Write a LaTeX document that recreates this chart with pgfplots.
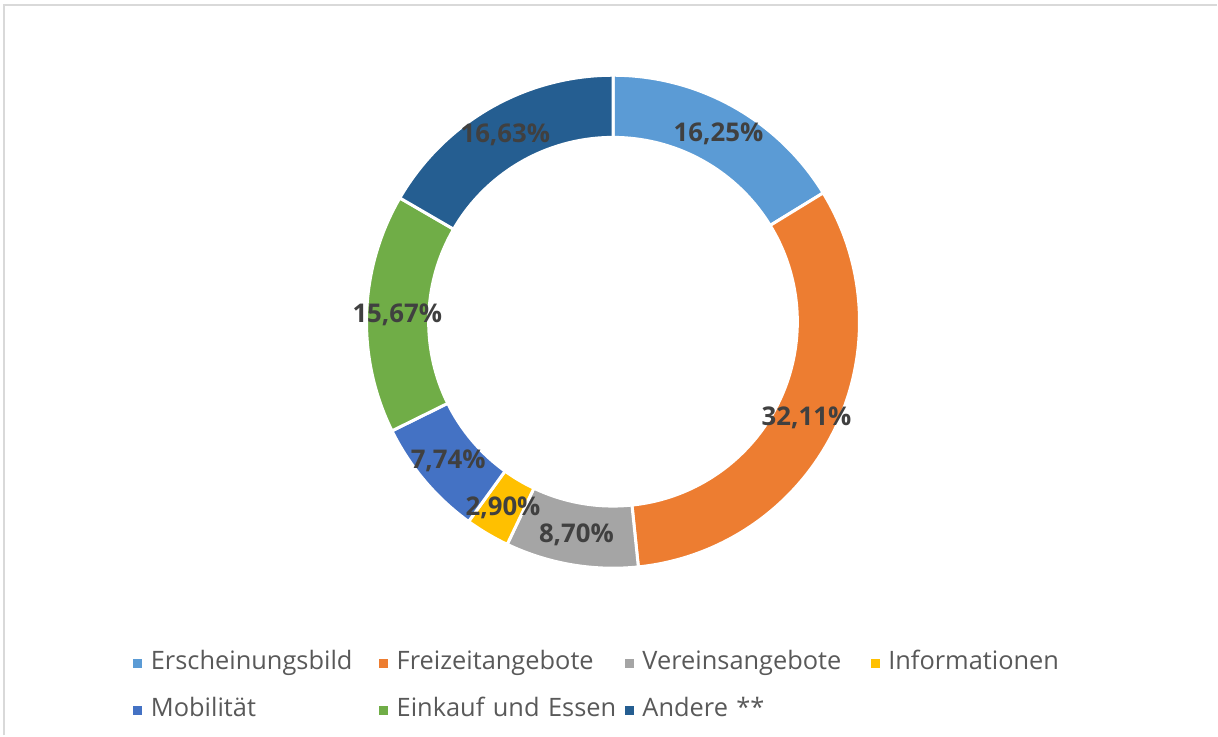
\documentclass[border=0pt]{standalone}
\usepackage{fontspec}
\setmainfont{Open Sans}
\usepackage{pgfplots}
\pgfplotsset{compat=1.18}
\definecolor{c1}{HTML}{5B9BD5}
\definecolor{c2}{HTML}{ED7D31}
\definecolor{c3}{HTML}{A5A5A5}
\definecolor{c4}{HTML}{FFC000}
\definecolor{c5}{HTML}{4472C4}
\definecolor{c6}{HTML}{70AD47}
\definecolor{c7}{HTML}{255E91}
\definecolor{lbl}{HTML}{404040}
\definecolor{leg}{HTML}{595959}
\definecolor{framecol}{HTML}{D9D9D9}
\def\donutdata{16.25/c1, 32.11/c2, 8.70/c3, 2.90/c4, 7.74/c5, 15.67/c6, 16.63/c7}
\def\lblfont{\fontsize{12.9}{15}\selectfont\bfseries}
\begin{document}
\begin{tikzpicture}
\begin{axis}[
  scale only axis, width=609pt, height=368pt,
  xmin=0, xmax=1218, ymin=0, ymax=736,
  hide axis, clip=false,
  /pgf/number format/assume math mode=true,
  legend columns=4,
  legend image code/.code={\fill[#1, draw=none] (0pt,-2.25pt) rectangle (4.5pt,2.25pt);},
  legend style={draw=none, fill=none, at={(axis cs:133,84)}, anchor=north west,
    font=\fontsize{12.7}{15}\selectfont, text=leg, inner sep=0pt, row sep=11.5pt,
    nodes={text width=114.2pt, inner xsep=0pt, inner ysep=0pt, text height=9pt, text depth=3pt, align=left, anchor=west}},
  /tikz/every odd column/.style={column sep=4.3pt},
]
\path (axis cs:0,0) rectangle (axis cs:1218,736);
\draw[framecol, line width=1pt] (axis cs:4,0) -- (axis cs:4,731) -- (axis cs:1218,731);
\xdef\cum{90}
\foreach \v/\c in \donutdata {
  \pgfmathsetmacro\endang{\cum-3.6*\v}
  \edef\tmp{\noexpand\addplot[forget plot, fill=\c, draw=white, line width=1.5pt, line join=round, domain=\endang:\cum, samples=120, variable=\noexpand\t] ({613.5+246.7*cos(\noexpand\t)},{414+246.7*sin(\noexpand\t)}) -- (axis cs:613.5,414) -- cycle;}
  \tmp
  \xdef\cum{\endang}
}
\addplot[forget plot, fill=white, draw=none, domain=0:360, samples=240, variable=\t] ({613.5+186*cos(\t)},{414+186*sin(\t)}) -- cycle;
\xdef\cum{90}
\foreach \v/\c in \donutdata {
  \pgfmathsetmacro\lx{613.5+216*cos(\cum-1.8*\v)}
  \pgfmathsetmacro\ly{414+216*sin(\cum-1.8*\v)}
  \pgfmathsetmacro\endang{\cum-3.6*\v}
  \edef\tmp{\noexpand\node[font=\noexpand\lblfont, text=lbl] at (axis cs:\lx,\ly) {\noexpand\pgfmathprintnumber[fixed,fixed zerofill,precision=2,use comma,assume math mode=true]{\v}\noexpand\%};}
  \tmp
  \xdef\cum{\endang}
}
\addlegendimage{fill=c1}\addlegendentry{Erscheinungsbild}
\addlegendimage{fill=c2}\addlegendentry{Freizeitangebote}
\addlegendimage{fill=c3}\addlegendentry{Vereinsangebote}
\addlegendimage{fill=c4}\addlegendentry{Informationen}
\addlegendimage{fill=c5}\addlegendentry{Mobilität}
\addlegendimage{fill=c6}\addlegendentry{Einkauf und Essen}
\addlegendimage{fill=c7}\addlegendentry{Andere **}
\end{axis}
\end{tikzpicture}
\end{document}
